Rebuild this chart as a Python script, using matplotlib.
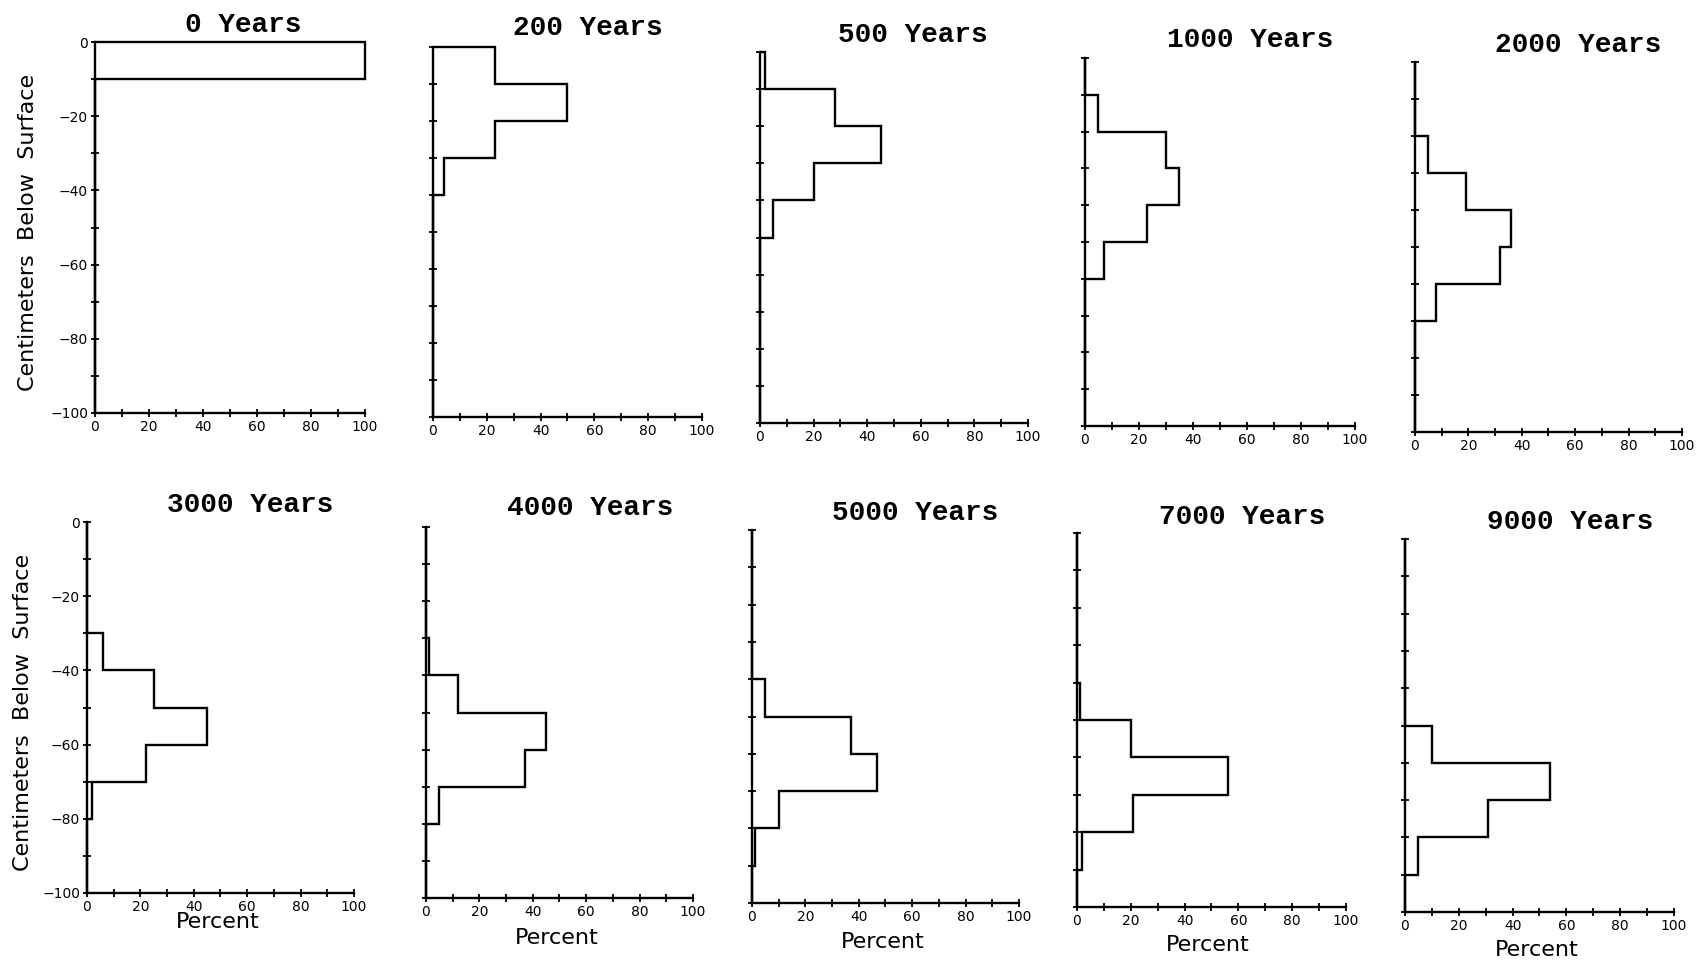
import matplotlib
matplotlib.use("Agg")
import matplotlib.pyplot as plt
import numpy as np

# Depth bins (cm below surface), 10 cm each, from the surface downward
depth_edges = [0, -10, -20, -30, -40, -50, -60, -70, -80, -90, -100]

# Elapsed time for each profile
ages = ["0 Years", "200 Years", "500 Years", "1000 Years", "2000 Years",
        "3000 Years", "4000 Years", "5000 Years", "7000 Years", "9000 Years"]

# Percent of material in each 10 cm bin (top bin first)
pct_0 = [100, 0, 0, 0, 0, 0, 0, 0, 0, 0]
pct_200 = [23, 50, 23, 4, 0, 0, 0, 0, 0, 0]
pct_500 = [2, 28, 45, 20, 5, 0, 0, 0, 0, 0]
pct_1000 = [0, 5, 30, 35, 23, 7, 0, 0, 0, 0]
pct_2000 = [0, 0, 5, 19, 36, 32, 8, 0, 0, 0]
pct_3000 = [0, 0, 0, 6, 25, 45, 22, 2, 0, 0]
pct_4000 = [0, 0, 0, 1, 12, 45, 37, 5, 0, 0]
pct_5000 = [0, 0, 0, 0, 5, 37, 47, 10, 1, 0]
pct_7000 = [0, 0, 0, 0, 1, 20, 56, 21, 2, 0]
pct_9000 = [0, 0, 0, 0, 0, 10, 54, 31, 5, 0]

profiles = [pct_0, pct_200, pct_500, pct_1000, pct_2000,
            pct_3000, pct_4000, pct_5000, pct_7000, pct_9000]

x_ticks = [0, 20, 40, 60, 80, 100]
y_ticks = [0, -20, -40, -60, -80, -100]

W, H = 1708, 965
fig = plt.figure(figsize=(W / 100, H / 100), dpi=100)
fig.patch.set_facecolor("white")

# panel boxes in pixels: left, top, right, bottom
boxes = [(95, 42, 365, 413), (433, 47, 702, 417), (760, 52, 1028, 423),
         (1085, 58, 1355, 426), (1415, 62, 1682, 432),
         (87, 522, 354, 893), (426, 527, 693, 898), (752, 530, 1019, 903),
         (1077, 533, 1346, 907), (1405, 539, 1674, 912)]
# title centres in pixels
title_pos = [(243, 25), (588, 28), (913, 35), (1250, 40), (1578, 45),
             (250, 505), (590, 508), (915, 513), (1242, 517), (1570, 522)]
percent_pos = [(218, 922), (557, 938), (883, 942), (1208, 945), (1537, 950)]
ylabel_pos = [(28, 232), (23, 712)]

lw = 1.7
for i, (vals, age) in enumerate(zip(profiles, ages)):
    l, t, r, b = boxes[i]
    ax = fig.add_axes([l / W, 1 - b / H, (r - l) / W, (b - t) / H])
    ax.stairs(vals[::-1], depth_edges[::-1], orientation="horizontal",
              baseline=0, fill=False, color="black", lw=lw, clip_on=False)
    ax.set_xlim(0, 100)
    ax.set_ylim(-100, 0)
    for s in ("top", "right"):
        ax.spines[s].set_visible(False)
    for s in ("left", "bottom"):
        ax.spines[s].set_linewidth(lw)
    ax.set_xticks(x_ticks)
    ax.set_xticks(np.arange(10, 100, 20), minor=True)
    ax.set_yticks(y_ticks)
    ax.set_yticks(np.arange(-90, 0, 20), minor=True)
    ax.tick_params(axis="both", which="both", direction="inout", length=6,
                   width=1.3, labelsize=10, pad=2)
    if i % 5 != 0:
        ax.set_yticklabels([])
    ax.set_facecolor("none")
    x, y = title_pos[i]
    fig.text(x / W, 1 - y / H, age, ha="center", va="center",
             family="Liberation Mono", fontsize=20, fontweight="bold")

for x, y in percent_pos:
    fig.text(x / W, 1 - y / H, "Percent", ha="center", va="center",
             fontsize=16)
for x, y in ylabel_pos:
    fig.text(x / W, 1 - y / H, "Centimeters  Below  Surface", ha="center",
             va="center", rotation=90, fontsize=16)

fig.savefig("out.png", dpi=100, facecolor="white")
